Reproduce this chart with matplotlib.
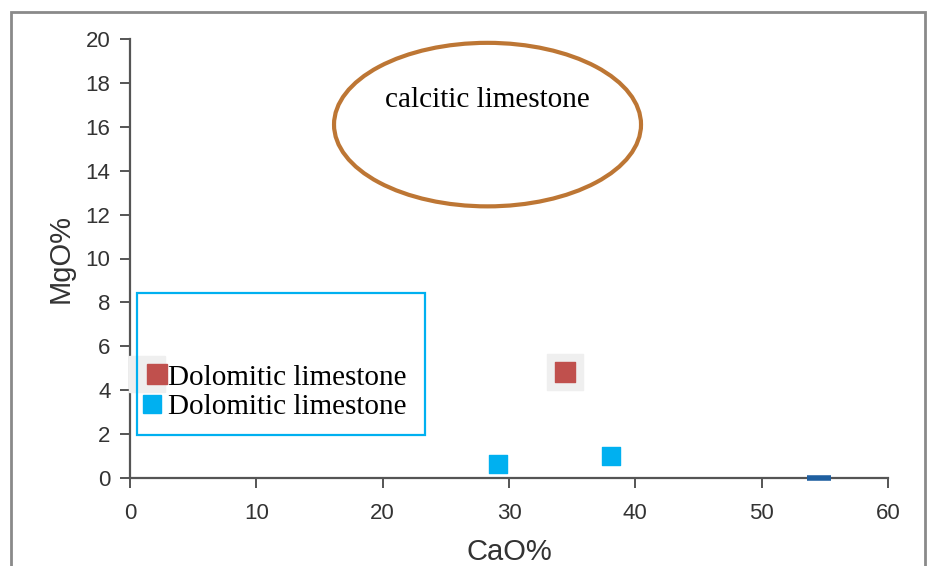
import matplotlib
matplotlib.use("Agg")
import matplotlib.pyplot as plt
from matplotlib.patches import Ellipse, Rectangle
from matplotlib.legend_handler import HandlerTuple
from matplotlib.lines import Line2D

# Data
red_cao = [34.4]
red_mgo = [4.85]
blue_cao = [29.1, 38.1]
blue_mgo = [0.65, 1.0]
dark_cao = [54.5]
dark_mgo = [0.0]
legend_labels = ["Dolomitic limestone", "Dolomitic limestone"]
ellipse_label = "calcitic limestone"
ellipse_center = (28.3, 16.1)
ellipse_size = (24.3, 7.45)
xticks = [0, 10, 20, 30, 40, 50, 60]
yticks = [0, 2, 4, 6, 8, 10, 12, 14, 16, 18, 20]

fig = plt.figure(figsize=(9.28, 5.66), dpi=100)
fig.patch.set_facecolor("white")

# outer gray frame
W, H = 928, 566
frame = Rectangle((11 / W, -0.05), (925 - 11) / W, (566 - 12) / H + 0.05,
                  transform=fig.transFigure, fill=False, edgecolor="#8a8a8a",
                  linewidth=2, zorder=0)
fig.patches.append(frame)

ax = fig.add_axes([130 / W, 1 - 478 / H, (888 - 130) / W, (478 - 39) / H])
ax.set_xlim(0, 60)
ax.set_ylim(0, 20)
ax.set_facecolor("none")

for s in ["top", "right"]:
    ax.spines[s].set_visible(False)
for s in ["left", "bottom"]:
    ax.spines[s].set_color("#555555")
    ax.spines[s].set_linewidth(1.6)

ax.set_xticks(xticks)
ax.set_yticks(yticks)
ax.tick_params(axis="both", direction="out", length=7, width=1.4, color="#555555",
               labelsize=16, labelcolor="#333333")
ax.tick_params(axis="x", pad=11)
ax.tick_params(axis="y", pad=7)
for lab in ax.get_xticklabels() + ax.get_yticklabels():
    lab.set_family("Liberation Sans")

ax.set_xlabel("CaO%", fontsize=21, color="#333333", family="Liberation Sans", labelpad=10)
ax.set_ylabel("MgO%", fontsize=21, color="#333333", family="Liberation Sans", labelpad=8)

# ellipse
ell = Ellipse(ellipse_center, ellipse_size[0], ellipse_size[1], fill=False,
              edgecolor="#BD7634", linewidth=3)
ax.add_patch(ell)
ax.text(ellipse_center[0], 17.2, ellipse_label, ha="center", va="center",
        fontsize=21, family="Liberation Serif", color="black")

# data points
ax.scatter(red_cao, red_mgo, marker="s", s=26 ** 2, color="#EFEFEF", zorder=3)
ax.scatter(red_cao, red_mgo, marker="s", s=14 ** 2, color="#C0504D", zorder=4)
ax.scatter(blue_cao, blue_mgo, marker="s", s=13.5 ** 2, color="#00B0F0", zorder=4)
ax.plot(dark_cao, dark_mgo, marker="_", markersize=17, mew=4, color="#1F5FA0",
        linestyle="none", clip_on=False, zorder=5)

# legend box
box = Rectangle((137 / W, 1 - 435 / H), (425 - 137) / W, (435 - 293) / H,
                transform=fig.transFigure, fill=False, edgecolor="#00B0F0",
                linewidth=1.6, zorder=6)
fig.patches.append(box)

h_bg = Line2D([], [], marker="s", markersize=26, color="#EFEFEF", linestyle="none")
h_red = Line2D([], [], marker="s", markersize=14, color="#C0504D", linestyle="none")
h_blue = Line2D([], [], marker="s", markersize=13.5, color="#00B0F0", linestyle="none")
leg = fig.legend([(h_bg, h_red), h_blue], legend_labels,
                 handler_map={tuple: HandlerTuple(ndivide=None)},
                 loc="center left", bbox_to_anchor=(142 / W, 1 - 392 / H),
                 frameon=False, prop={"family": "Liberation Serif", "size": 21},
                 handlelength=0.7, handletextpad=0.2, labelspacing=0.1,
                 borderpad=0, borderaxespad=0)

fig.savefig("out.png", dpi=100)
